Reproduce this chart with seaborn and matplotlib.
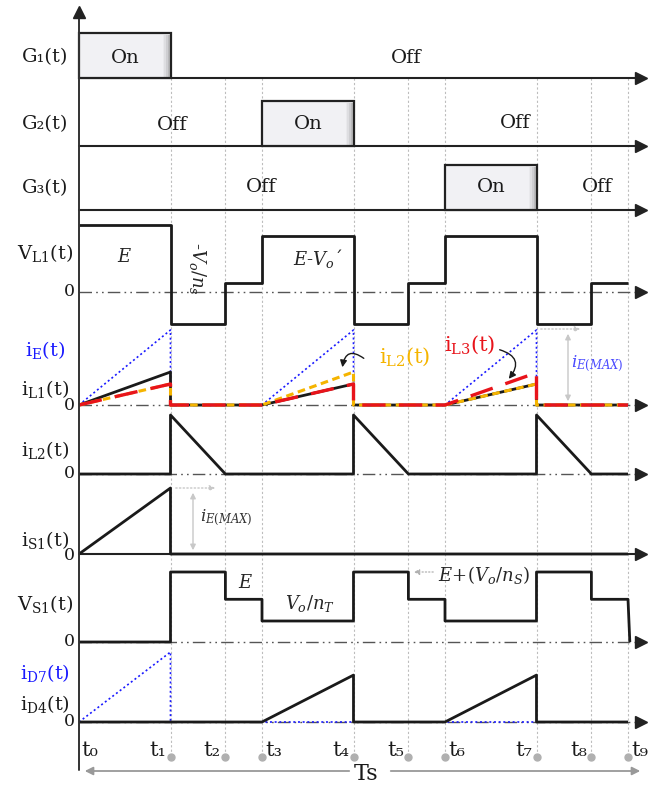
import numpy as np
import pandas as pd
import matplotlib
matplotlib.use("Agg")
import matplotlib.pyplot as plt
import seaborn as sns

# ---------------- data ----------------
# switching instants t0..t9 (in units of the G1 on-time)
t_inst = [0.0, 1.0, 1.6, 2.0, 3.0, 3.6, 4.0, 5.0, 5.6, 6.0]
t_names = ["t₀", "t₁", "t₂", "t₃", "t₄", "t₅", "t₆", "t₇", "t₈", "t₉"]

# gate on-intervals as (start index, end index) into t_inst
gate_on = {"G1": (0, 1), "G2": (3, 4), "G3": (6, 7)}

# piecewise-constant voltages on each interval t0-t1 ... t8-t9 (E = 1)
vl1_levels = [1.0, -0.48, 0.13, 0.84, -0.48, 0.13, 0.84, -0.48, 0.13]
vs1_levels = [0.0, 1.0, 0.61, 0.30, 1.0, 0.61, 0.30, 1.0, 0.61]

# charging intervals (index pairs) and current peaks (iE max = 1)
charge_iv = [(0, 1), (3, 4), (6, 7)]
iE_peak = [1.0, 1.0, 1.0]
iL1_peak = [0.44, 0.28, 0.28]
iL2_peak = [0.28, 0.44, 0.28]
iL3_peak = [0.28, 0.28, 0.43]

# discharge of iL2 (row iL2) after each charging interval
disch_iv = [(1, 2), (4, 5), (7, 8)]
iL2_dis_peak = [1.0, 1.0, 1.0]

iS1_peak = [1.0]
iD7_peak = [1.0]
d4_iv = [(3, 4), (6, 7)]
iD4_peak = [0.67, 0.67]

# ---------------- layout ----------------
X0, PX = 79.0, 91.5          # pixel of t0 and pixels per time unit
W, H = 659, 785


def tx(xp):
    return (xp - X0) / PX


rows = {                      # baseline (px from top), px per unit
    "G1": (78, 45), "G2": (146, 45), "G3": (210, 45),
    "VL1": (292, 67), "iL": (405, 75), "iL2": (474, 59),
    "iS1": (554, 66), "VS1": (642, 70), "iD": (722, 70),
}

sns.set_theme(style="white")
plt.rcParams["font.family"] = ["DejaVu Serif", "DejaVu Sans"]
plt.rcParams["mathtext.fontset"] = "dejavuserif"

fig = plt.figure(figsize=(W / 100, H / 100), dpi=100)
ax = fig.add_axes([0, 0, 1, 1])
ax.set_xlim(tx(0), tx(W))
ax.set_ylim(H, 0)
ax.axis("off")

BLUE = "#1a1aff"
ORANGE = "#f5b400"
RED = "#e8141b"


def ramp_wave(ivs, peaks, t_end=t_inst[-1]):
    xs, ys = [t_inst[0]], [0.0]
    for (a, b), p in zip(ivs, peaks):
        xs += [t_inst[a], t_inst[b], t_inst[b]]
        ys += [0.0, p, 0.0]
    xs.append(t_end)
    ys.append(0.0)
    return xs, ys


def fall_wave(ivs, peaks, t_end=t_inst[-1]):
    xs, ys = [t_inst[0]], [0.0]
    for (a, b), p in zip(ivs, peaks):
        xs += [t_inst[a], t_inst[a], t_inst[b]]
        ys += [0.0, p, 0.0]
    xs.append(t_end)
    ys.append(0.0)
    return xs, ys


def step_wave(levels):
    xs, ys = [], []
    for i, lv in enumerate(levels):
        xs += [t_inst[i], t_inst[i + 1]]
        ys += [lv, lv]
    return xs, ys


def trace(xs, ys, row, color="#1a1a1a", lw=2.0, dashes=None, z=3):
    base, s = rows[row]
    df = pd.DataFrame({"t": xs, "y": base - s * np.asarray(ys, float)})
    sns.lineplot(data=df, x="t", y="y", sort=False, estimator=None, ax=ax,
                 color=color, linewidth=lw, legend=False, zorder=z)
    ln = ax.lines[-1]
    ln.set_solid_capstyle("butt")
    if dashes is not None:
        ln.set_dashes(dashes)
        ln.set_dash_capstyle("butt")
    return ln


x_end_arrow = tx(641)

# vertical dotted guides at t1..t9
for t in t_inst[1:]:
    ax.plot([t, t], [78, 757], color="#bdbdbd", lw=0.8, ls=(0, (2, 2)), zorder=1)
    ax.plot([t], [757], "o", color="#b0b0b0", ms=5, zorder=2)

# main vertical axis
ax.plot([0, 0], [770, 14], color="#333333", lw=1.4, zorder=4)
ax.plot([0], [12], marker="^", color="#222222", ms=8, zorder=5)


def baseline(row, style="solid"):
    y = rows[row][0]
    if style == "solid":
        ax.plot([0, x_end_arrow - 0.05], [y, y], color="#222222", lw=1.5, zorder=2)
    else:
        ln, = ax.plot([0, x_end_arrow - 0.05], [y, y], color="#555555", lw=1.0, zorder=2)
        ln.set_dashes((9, 3, 1.2, 3, 1.2, 3))
    ax.plot([x_end_arrow], [y], marker=">", color="#222222", ms=8, zorder=5)


for r in ["G1", "G2", "G3", "iS1"]:
    baseline(r, "solid")
for r in ["VL1", "iL", "iL2", "VS1", "iD"]:
    baseline(r, "dashdot")

# gate on-boxes with a soft inner shade on the right edge
for g, (a, b) in gate_on.items():
    base, s = rows[g]
    left, right = t_inst[a], t_inst[b]
    ax.bar(left, -s, width=right - left, bottom=base, align="edge",
           color="#f1f1f4", edgecolor="#222222", linewidth=1.6, zorder=3)
    for k, al in enumerate([0.05, 0.08, 0.12, 0.18]):
        w = 0.075 - 0.017 * k
        ax.bar(right - w - 0.008, -(s - 3), width=w, bottom=base - 1.5, align="edge",
               color="#606060", alpha=al, linewidth=0, zorder=3.1)

# VL1
x, y = step_wave(vl1_levels)
trace(x, y, "VL1")

# inductor currents row
x, y = ramp_wave(charge_iv, iE_peak)
trace(x, y, "iL", color=BLUE, lw=1.2, dashes=(1.2, 1.6), z=3)
x, y = ramp_wave(charge_iv, iL1_peak)
trace(x, y, "iL", color="#1a1a1a", lw=2.0, z=3.2)
x, y = ramp_wave(charge_iv, iL2_peak)
trace(x, y, "iL", color=ORANGE, lw=2.2, dashes=(2.5, 1.5), z=3.4)
x, y = ramp_wave(charge_iv, iL3_peak)
trace(x, y, "iL", color=RED, lw=2.4, dashes=(7, 4), z=3.6)

# iL2 row
x, y = fall_wave(disch_iv, iL2_dis_peak)
trace(x, y, "iL2")

# iS1 row
x, y = ramp_wave(charge_iv[:1], iS1_peak)
trace(x, y, "iS1")

# VS1 row
x, y = step_wave(vs1_levels)
x += [t_inst[-1] + 0.02]
y += [0.0]
trace(x, y, "VS1")

# diode currents row
x, y = ramp_wave(charge_iv[:1], iD7_peak, t_end=t_inst[7])
trace(x, y, "iD", color=BLUE, lw=1.2, dashes=(1.2, 1.6), z=3)
x, y = ramp_wave(d4_iv, iD4_peak)
trace(x, y, "iD", color="#1a1a1a", lw=2.0, z=3.2)

# ---------------- text ----------------
LX = tx(45)
fs = 14
labels = [
    ("G₁(t)", 57, "#1a1a1a"), ("G₂(t)", 124, "#1a1a1a"), ("G₃(t)", 188, "#1a1a1a"),
    (r"V$_\mathrm{L1}$(t)", 253, "#1a1a1a"),
    (r"i$_\mathrm{E}$(t)", 350, BLUE), (r"i$_\mathrm{L1}$(t)", 389, "#1a1a1a"),
    (r"i$_\mathrm{L2}$(t)", 450, "#1a1a1a"), (r"i$_\mathrm{S1}$(t)", 540, "#1a1a1a"),
    (r"V$_\mathrm{S1}$(t)", 604, "#1a1a1a"),
    (r"i$_\mathrm{D7}$(t)", 673, BLUE), (r"i$_\mathrm{D4}$(t)", 704, "#1a1a1a"),
]
for s, yy, c in labels:
    ax.text(LX, yy, s, ha="center", va="center", fontsize=fs, color=c)

for yy in [292, 406, 474, 556, 642, 722]:
    ax.text(tx(75), yy, "0", ha="right", va="center", fontsize=12.5, color="#1a1a1a")

for s, xp, yp in [("On", 125, 58), ("On", 308, 124), ("On", 491, 187),
                  ("Off", 406, 58), ("Off", 172, 125), ("Off", 515, 123),
                  ("Off", 261, 187), ("Off", 597, 187)]:
    ax.text(tx(xp), yp, s, ha="center", va="center", fontsize=14, color="#1a1a1a")

ax.text(tx(125), 257, r"$E$", ha="center", va="center", fontsize=13)
ax.text(tx(318), 258, r"$E$-$V_o$´", ha="center", va="center", fontsize=13)
ax.text(tx(197), 268, r"-$V_o/n_s$", ha="center", va="center", fontsize=13, rotation=-90)
ax.text(tx(246), 583, r"$E$", ha="center", va="center", fontsize=13)
ax.text(tx(310), 603, r"$V_o/n_T$", ha="center", va="center", fontsize=13)
ax.text(tx(438), 575, r"$E\!+\!(V_o/n_S)$", ha="left", va="center", fontsize=13)
ax.annotate("", xy=(tx(411), 572), xytext=(tx(436), 572),
            arrowprops=dict(arrowstyle="-|>", color="#b0b0b0", lw=0.9, ls=":",
                            mutation_scale=8))

ax.text(tx(405), 357, r"i$_\mathrm{L2}$(t)", ha="center", va="center", fontsize=15, color=ORANGE)
ax.text(tx(470), 345, r"i$_\mathrm{L3}$(t)", ha="center", va="center", fontsize=15, color=RED)
ax.annotate("", xy=(tx(342), 370), xytext=(tx(366), 360),
            arrowprops=dict(arrowstyle="-|>", color="#1a1a1a", lw=1.0,
                            connectionstyle="arc3,rad=0.9", mutation_scale=10))
ax.annotate("", xy=(tx(507), 381), xytext=(tx(497), 349),
            arrowprops=dict(arrowstyle="-|>", color="#1a1a1a", lw=1.0,
                            connectionstyle="arc3,rad=-0.8", mutation_scale=10))

# iE(MAX) markers
ax.text(tx(597), 364, r"$i_{E(MAX)}$", ha="center", va="center", fontsize=12, color="#4a4aff")
ax.annotate("", xy=(tx(568), 331), xytext=(tx(568), 404),
            arrowprops=dict(arrowstyle="<|-|>", color="#c8c8c8", lw=1.0, mutation_scale=8))
ax.annotate("", xy=(tx(583), 329), xytext=(tx(538), 329),
            arrowprops=dict(arrowstyle="-|>", color="#c8c8c8", lw=1.0, ls=":", mutation_scale=8))
ax.text(tx(226), 518, r"$i_{E(MAX)}$", ha="center", va="center", fontsize=12, color="#333333")
ax.annotate("", xy=(tx(193), 490), xytext=(tx(193), 553),
            arrowprops=dict(arrowstyle="<|-|>", color="#c8c8c8", lw=1.0, mutation_scale=8))
ax.annotate("", xy=(tx(218), 488), xytext=(tx(173), 488),
            arrowprops=dict(arrowstyle="-|>", color="#c8c8c8", lw=1.0, ls=":", mutation_scale=8))

# time instants
t_align = ["left", "right", "right", "left", "right", "right", "left", "right", "right", "left"]
for t, name, al in zip(t_inst, t_names, t_align):
    off = 0.04 if al == "left" else -0.05
    if name == "t₀":
        off = 0.03
    ax.text(t + off, 751, name, ha=al, va="center", fontsize=15, color="#1a1a1a")

# period arrow
ax.annotate("", xy=(tx(82), 771), xytext=(tx(352), 771),
            arrowprops=dict(arrowstyle="-|>", color="#999999", lw=1.3, mutation_scale=12))
ax.annotate("", xy=(tx(643), 771), xytext=(tx(388), 771),
            arrowprops=dict(arrowstyle="-|>", color="#999999", lw=1.3, mutation_scale=12))
ax.text(tx(366), 774, "Ts", ha="center", va="center", fontsize=16, color="#1a1a1a")

fig.savefig("out.png", dpi=100, facecolor="white")
